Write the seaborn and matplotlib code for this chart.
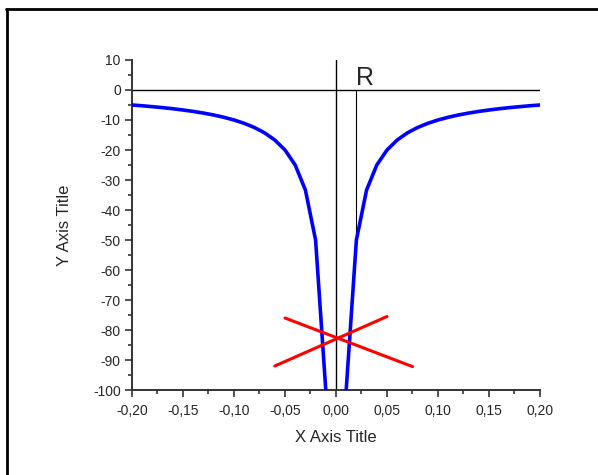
import numpy as np
import pandas as pd
import seaborn as sns
import matplotlib.pyplot as plt
from matplotlib.ticker import MultipleLocator, FuncFormatter
from matplotlib.lines import Line2D

# curve samples (right branch), left branch is the mirror
x_right = [0.01, 0.02, 0.03, 0.04, 0.05, 0.06, 0.07, 0.08, 0.09, 0.10,
           0.11, 0.12, 0.13, 0.14, 0.15, 0.16, 0.17, 0.18, 0.19, 0.20]
y_right = [-100, -50, -33.33, -25, -20, -16.67, -14.29, -12.5, -11.11, -10,
           -9.09, -8.33, -7.69, -7.14, -6.67, -6.25, -5.88, -5.56, -5.26, -5]

# red cross
red1_x = [-0.06, 0.05]
red1_y = [-92, -75.5]
red2_x = [-0.05, 0.075]
red2_y = [-76, -92.2]

# marker line at R
r_x = 0.02
r_y = [0, -50]

df = pd.DataFrame({
    "x": [-v for v in x_right] + x_right,
    "y": y_right + y_right,
    "branch": ["left"] * len(x_right) + ["right"] * len(x_right),
})

sns.set_style("ticks")
plt.rcParams["font.family"] = ["Liberation Sans", "DejaVu Sans"]
plt.rcParams["axes.unicode_minus"] = False

fig = plt.figure(figsize=(5.98, 4.75), dpi=100)
ax = fig.add_axes([0.2207, 0.1789, 0.6823, 0.6948])

# outer frame: only the left and top edges show in the reference
fig.add_artist(Line2D([0.011, 0.011], [0.0, 0.981], color="black", linewidth=2, transform=fig.transFigure))
fig.add_artist(Line2D([0.010, 1.0], [0.981, 0.981], color="black", linewidth=2, transform=fig.transFigure))

ax.axhline(0, color="black", linewidth=1.0, zorder=1)
ax.axvline(0, color="black", linewidth=1.0, zorder=1)
ax.plot([r_x, r_x], r_y, color="black", linewidth=0.8, zorder=1)

sns.lineplot(data=df, x="x", y="y", units="branch", estimator=None, sort=False,
             color="#0000FF", linewidth=2.6, ax=ax, zorder=3)
sns.lineplot(x=red1_x, y=red1_y, color="#FF0000", linewidth=2.2, ax=ax, zorder=4)
sns.lineplot(x=red2_x, y=red2_y, color="#FF0000", linewidth=2.2, ax=ax, zorder=4)

ax.text(0.0285, 4, "R", fontsize=18, ha="center", va="center")

ax.set_xlim(-0.2, 0.2)
ax.set_ylim(-100, 10)
ax.xaxis.set_major_locator(MultipleLocator(0.05))
ax.xaxis.set_minor_locator(MultipleLocator(0.025))
ax.yaxis.set_major_locator(MultipleLocator(10))
ax.yaxis.set_minor_locator(MultipleLocator(5))
ax.xaxis.set_major_formatter(FuncFormatter(lambda v, p: f"{v:.2f}".replace(".", ",").replace("-0,00", "0,00")))
ax.yaxis.set_major_formatter(FuncFormatter(lambda v, p: f"{v:.0f}"))

for s in ["top", "right"]:
    ax.spines[s].set_visible(False)
for s in ["left", "bottom"]:
    ax.spines[s].set_linewidth(1.4)
    ax.spines[s].set_color("#333333")

ax.tick_params(which="major", length=5, width=1.2, labelsize=10, color="#333333", pad=3)
ax.tick_params(axis="x", which="major", pad=5)
ax.tick_params(which="minor", length=3, width=1.2, color="#333333")

ax.set_xlabel("X Axis Title", fontsize=12, labelpad=9)
ax.set_ylabel("Y Axis Title", fontsize=12, labelpad=15)
ax.set_facecolor("white")
fig.patch.set_facecolor("white")

fig.savefig("out.png", dpi=100)
